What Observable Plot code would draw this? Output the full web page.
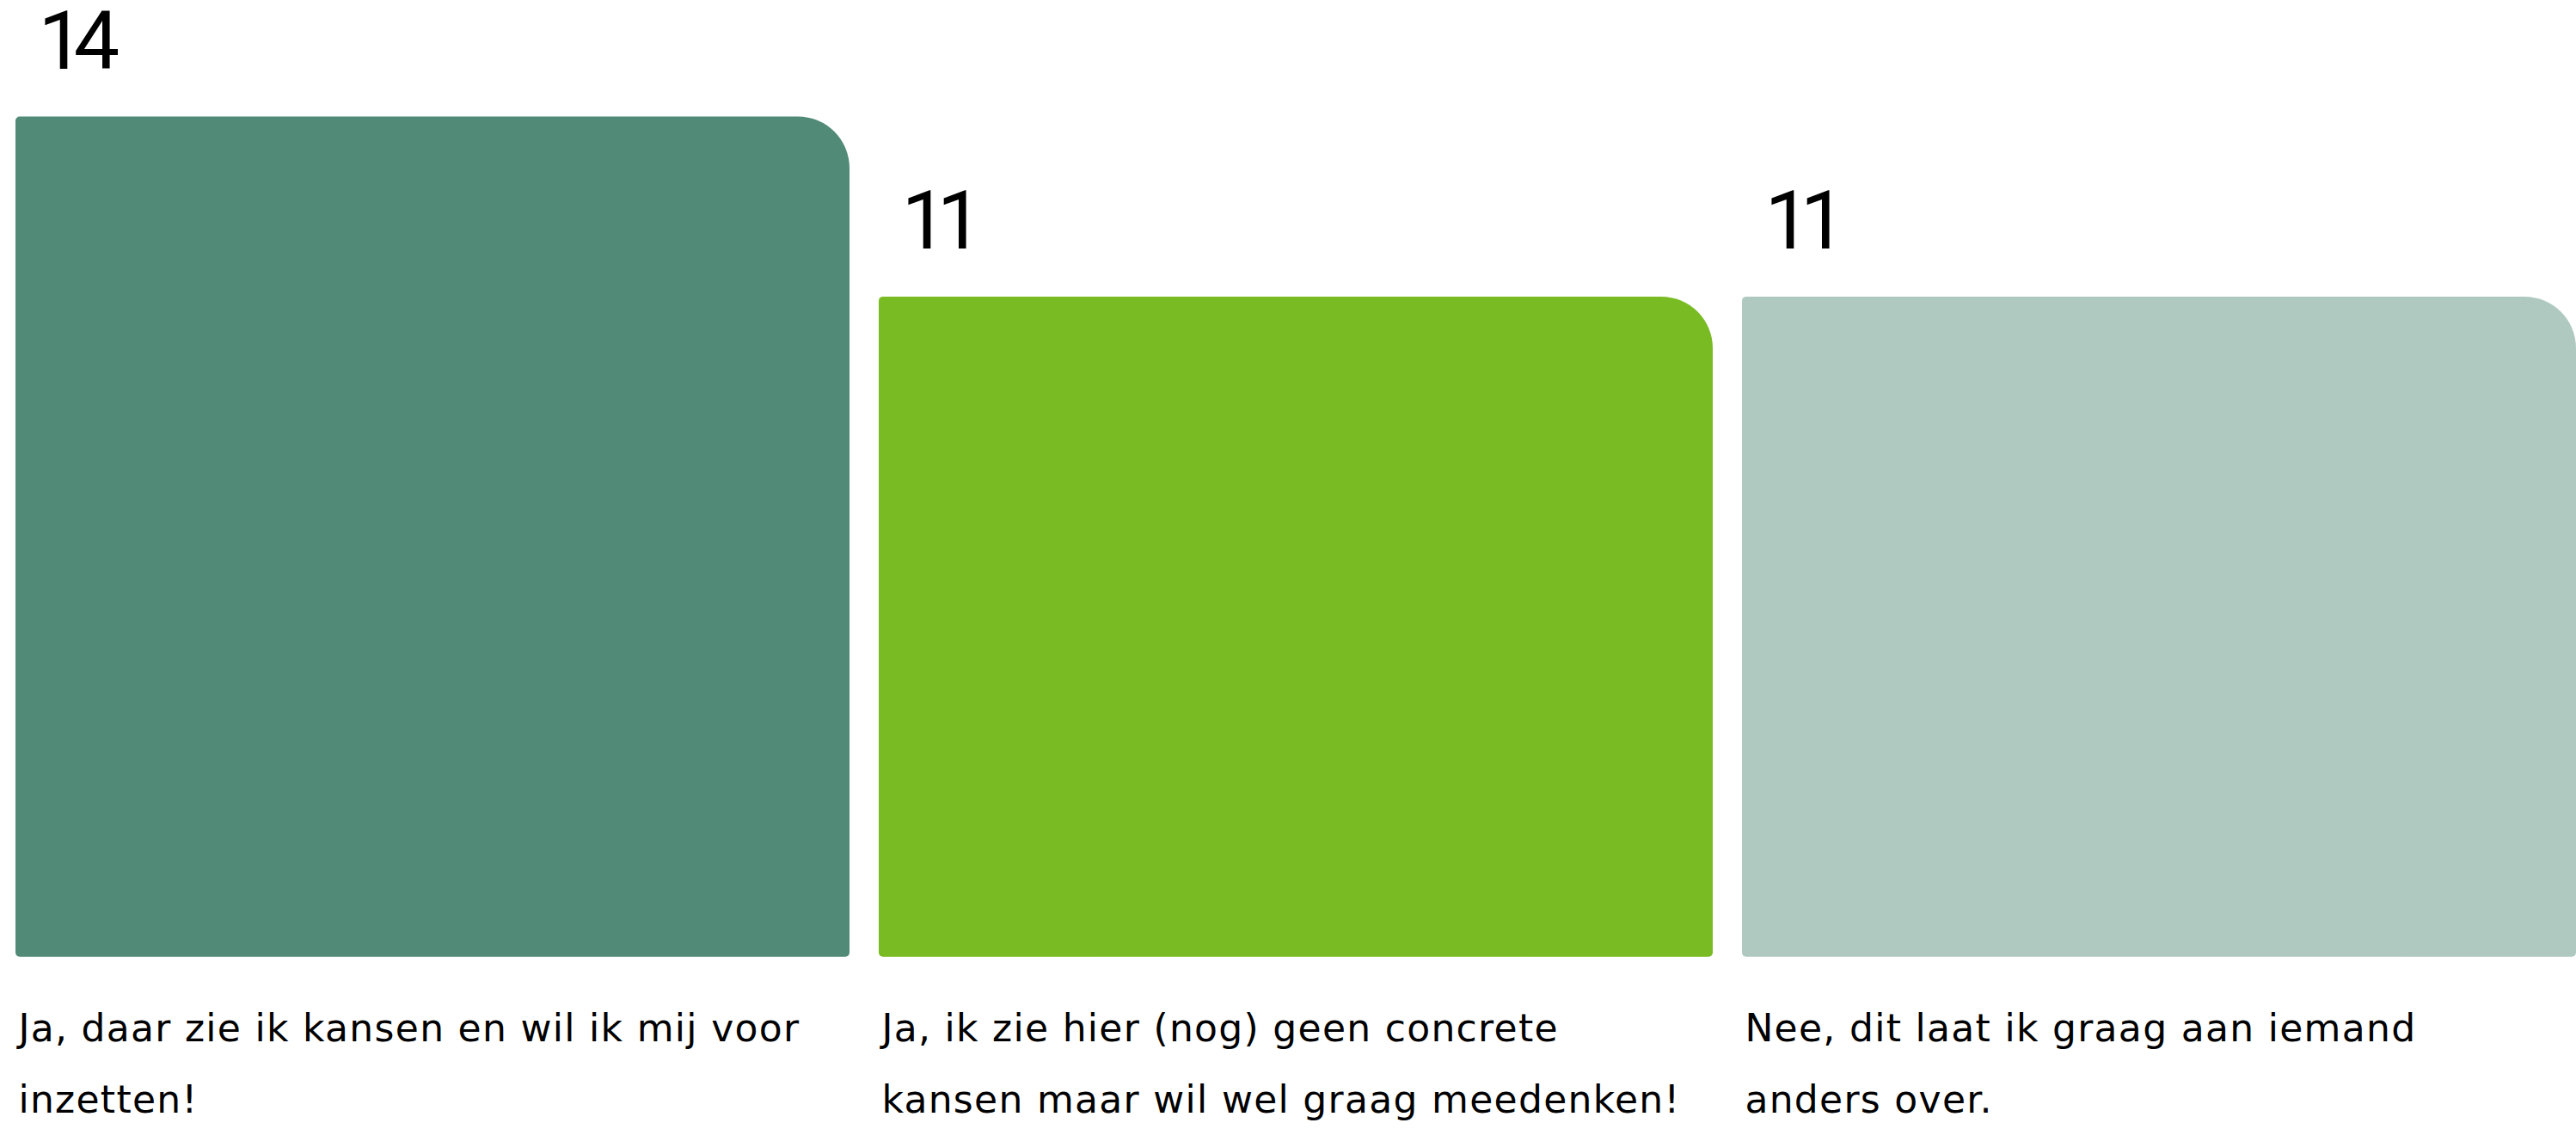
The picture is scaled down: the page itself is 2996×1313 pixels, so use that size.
<!DOCTYPE html>
<html>
<head>
<meta charset="utf-8">
<script src="https://cdn.jsdelivr.net/npm/d3@7"></script>
<script src="https://cdn.jsdelivr.net/npm/@observablehq/plot@0.6"></script>
<style>
  html, body { margin: 0; padding: 0; background: #ffffff; }
  #chart svg { display: block; }
  #chart [font-family="Roboto"],
  #chart [font-family="Roboto"] text,
  #chart [font-family="Roboto"] tspan { letter-spacing: -12px; }
  #chart [font-family="DejaVu Sans"],
  #chart [font-family="DejaVu Sans"] text,
  #chart [font-family="DejaVu Sans"] tspan { letter-spacing: 1.3px; }
</style>
</head>
<body>
<div id="chart"></div>
<script>
const categories = [
  "Ja, daar zie ik kansen en wil ik mij voor inzetten!",
  "Ja, ik zie hier (nog) geen concrete kansen maar wil wel graag meedenken!",
  "Nee, dit laat ik graag aan iemand anders over."
];
const values = [14, 11, 11];
const labels = [
  "Ja, daar zie ik kansen en wil ik mij voor\ninzetten!",
  "Ja, ik zie hier (nog) geen concrete\nkansen maar wil wel graag meedenken!",
  "Nee, dit laat ik graag aan iemand\nanders over."
];
const colors = ["#518a76", "#78bb22", "#b0c9c0"];

const data = categories.map((c, i) => ({cat: c, value: values[i], label: labels[i]}));

const W = 2996, H = 1313;
const bandwidth = (W - 17) / (3 - 0.034) * (1 - 0.034);

const chart = Plot.plot({
  width: W,
  height: H,
  marginLeft: 17,
  marginRight: 0,
  marginTop: 0,
  marginBottom: 0,
  x: {domain: categories, paddingInner: 0.034, paddingOuter: 0, axis: null},
  y: {domain: [0, 14], range: [1112.7, 135.5], axis: null},
  color: {domain: categories, range: colors},
  marks: [
    Plot.barY(data, {
      x: "cat", y: "value", fill: "cat",
      rx1y1: 5, rx1y2: 5, rx2y2: 5, rx2y1: 60
    }),
    Plot.text(data, {
      x: "cat", y: "value", text: d => String(d.value),
      textAnchor: "start", lineAnchor: "bottom",
      dx: -bandwidth / 2 + 26, dy: -56,
      fontSize: 95, fontFamily: "Roboto", fill: "#000"
    }),
    Plot.text(data, {
      x: "cat", y: () => 0, text: "label",
      textAnchor: "start", lineAnchor: "bottom", lineHeight: 83.3 / 44,
      dx: -bandwidth / 2 + 3, dy: 181,
      fontSize: 44, fontFamily: "DejaVu Sans", fill: "#000"
    })
  ]
});
document.getElementById("chart").appendChild(chart);
</script>
</body>
</html>
